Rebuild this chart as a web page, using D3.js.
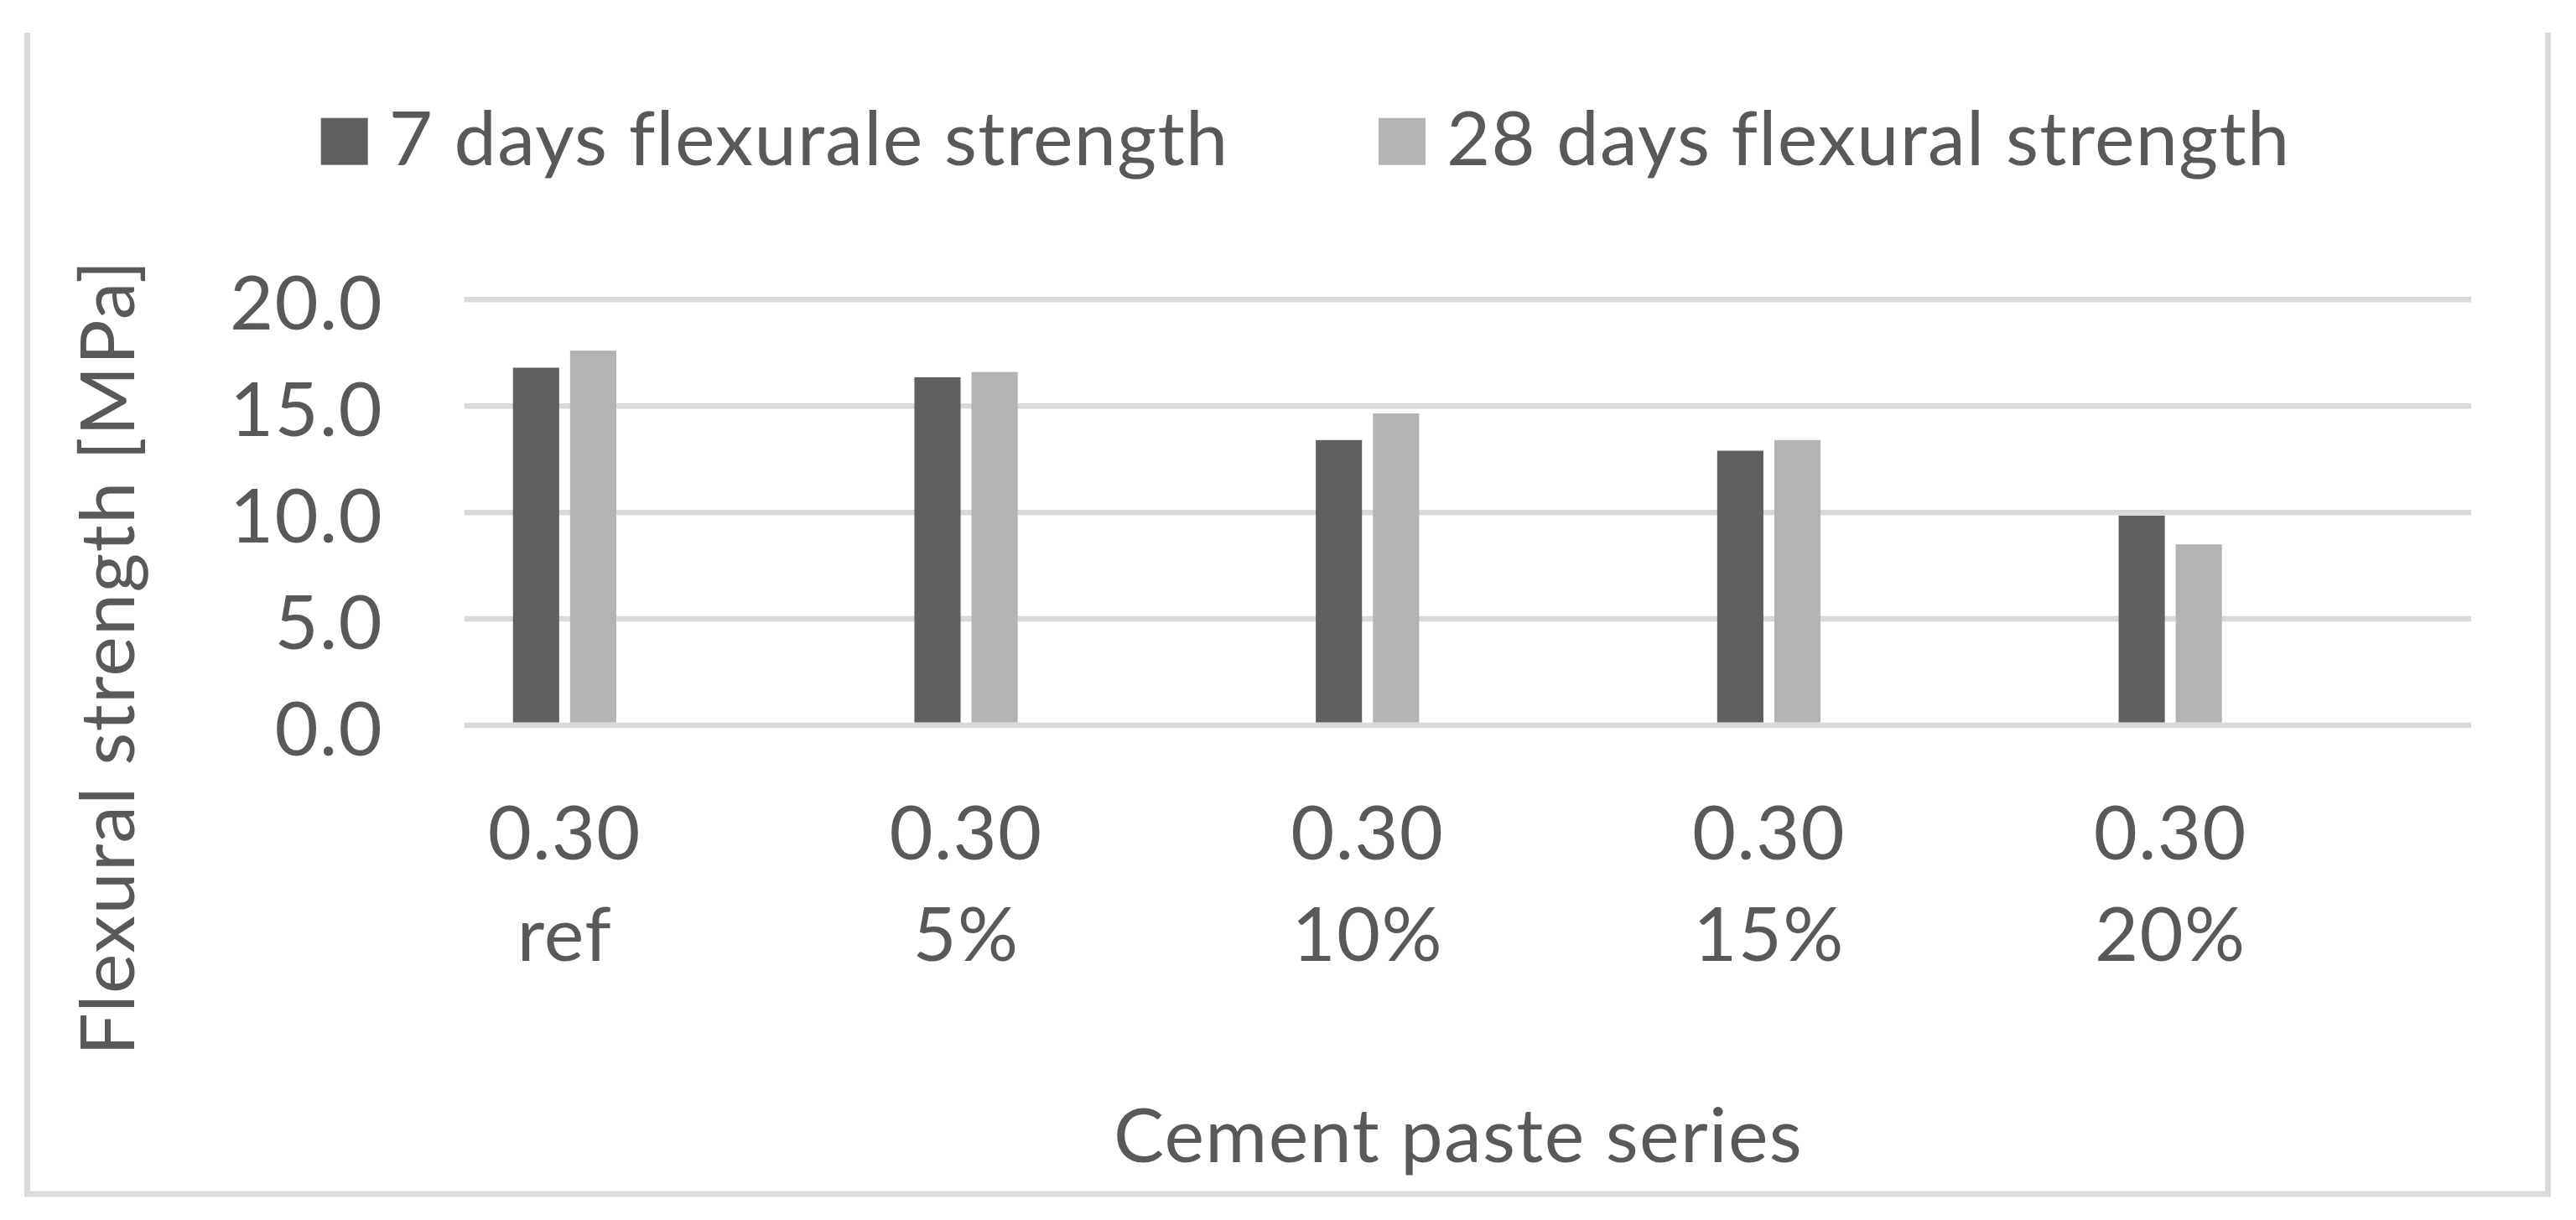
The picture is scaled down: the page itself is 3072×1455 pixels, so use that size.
<!DOCTYPE html>
<html>
<head>
<meta charset="utf-8">
<script src="https://cdn.jsdelivr.net/npm/d3@7"></script>
<style>
  html, body { margin: 0; padding: 0; background: #fff; }
  svg { display: block; }
  text { font-family: Lato, "Open Sans", sans-serif; fill: #595959; letter-spacing: 1.3px; }
</style>
</head>
<body>
<svg id="chart" width="3072" height="1455"></svg>
<script>
// ---- data ----
const categoriesLine1 = ["0.30", "0.30", "0.30", "0.30", "0.30"];
const categoriesLine2 = ["ref", "5%", "10%", "15%", "20%"];
const seriesNames = ["7 days flexurale strength", "28 days flexural strength"];
const values7 = [16.8, 16.35, 13.4, 12.9, 9.85];
const values28 = [17.6, 16.6, 14.65, 13.4, 8.5];
const yTicks = [0, 5, 10, 15, 20];
const yTitle = "Flexural strength [MPa]";
const xTitle = "Cement paste series";
const colors = ["#606060", "#b3b3b3"];

// ---- layout ----
const W = 3072, H = 1455;
const svg = d3.select("#chart");
svg.append("rect").attr("width", W).attr("height", H).attr("fill", "#fff");

// outer frame (top edge cropped off in the reference)
svg.append("path")
  .attr("d", "M32.5,39 V1424 H3038.5 V39")
  .attr("fill", "none").attr("stroke", "#d9d9d9").attr("stroke-width", 7);

const gridX0 = 553.6, gridX1 = 2947;
const y = d3.scaleLinear().domain([0, 20]).range([865, 357.3]);

// category scale (bar groups sit offset from gridline extent as in the reference)
const catIdx = d3.range(categoriesLine2.length);
const x0 = d3.scaleBand().domain(catIdx).range([434, 2827.5]).paddingInner(0).paddingOuter(0);
const x1 = d3.scaleBand().domain([0, 1]).range([-61.6, 61.6]).paddingInner(0.191).paddingOuter(0);

// gridlines
svg.append("g").selectAll("line").data(yTicks.filter(d => d !== 0)).join("line")
  .attr("x1", gridX0).attr("x2", gridX1)
  .attr("y1", d => y(d)).attr("y2", d => y(d))
  .attr("stroke", "#d9d9d9").attr("stroke-width", 6.5);

// bars
const rows = catIdx.map(i => [values7[i], values28[i]]);
const groups = svg.append("g").selectAll("g").data(rows).join("g")
  .attr("transform", (d, i) => `translate(${x0(i) + x0.bandwidth() / 2},0)`);
groups.selectAll("rect").data(d => d.map((v, s) => ({ v, s }))).join("rect")
  .attr("x", d => x1(d.s))
  .attr("width", x1.bandwidth())
  .attr("y", d => y(d.v))
  .attr("height", d => y(0) - 3.3 - y(d.v))
  .attr("fill", d => colors[d.s]);

// baseline (zero) line
svg.append("line")
  .attr("x1", gridX0).attr("x2", gridX1)
  .attr("y1", y(0)).attr("y2", y(0))
  .attr("stroke", "#d9d9d9").attr("stroke-width", 6.5);

const fs = 90;

// y tick labels
const yAxis = d3.axisLeft(y).tickValues(yTicks).tickFormat(d3.format(".1f")).tickSize(0).tickPadding(0);
const yg = svg.append("g").attr("transform", "translate(457,0)").call(yAxis);
yg.select(".domain").remove();
yg.selectAll("text")
  .attr("font-size", fs).attr("font-family", "Lato, sans-serif").attr("fill", "#595959")
  .attr("dy", null).attr("y", 0).attr("dominant-baseline", "central");

// x labels
const xl = svg.append("g");
catIdx.forEach(i => {
  const cx = x0(i) + x0.bandwidth() / 2;
  xl.append("text").attr("x", cx).attr("y", 1025).attr("text-anchor", "middle")
    .attr("font-size", fs).text(categoriesLine1[i]);
  xl.append("text").attr("x", cx).attr("y", 1146).attr("text-anchor", "middle")
    .attr("font-size", fs).text(categoriesLine2[i]);
});

// axis titles
svg.append("text").attr("x", 1739).attr("y", 1386).attr("text-anchor", "middle")
  .attr("font-size", fs).text(xTitle);
svg.append("text").attr("transform", "translate(160,784) rotate(-90)")
  .attr("text-anchor", "middle").attr("font-size", fs).text(yTitle);

// legend
const legendX = [382.7, 1644];
seriesNames.forEach((name, s) => {
  svg.append("rect").attr("x", legendX[s]).attr("y", 140.7).attr("width", 56).attr("height", 56)
    .attr("fill", colors[s]);
  svg.append("text").attr("x", legendX[s] + 81).attr("y", 197)
    .attr("font-size", fs).text(name);
});
</script>
</body>
</html>
